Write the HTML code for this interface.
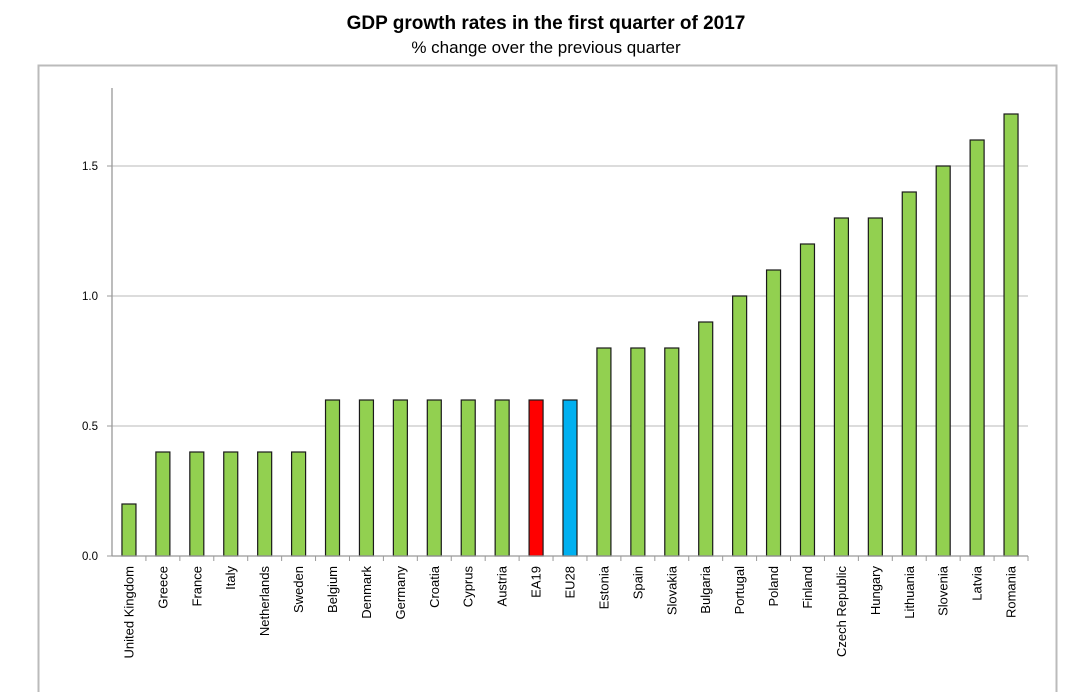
<!DOCTYPE html>
<html><head><meta charset="utf-8"><style>
html,body{margin:0;padding:0;background:#fff;}
svg{display:block;font-family:"Liberation Sans",sans-serif;}
</style></head><body>
<svg id="chart" width="1071" height="692">
<text x="546" y="29" text-anchor="middle" font-size="19" font-weight="bold">GDP growth rates in the first quarter of 2017</text>
<text x="546" y="53" text-anchor="middle" font-size="17">% change over the previous quarter</text>
<rect x="38.5" y="65.5" width="1018" height="640" fill="none" stroke="#bbb" stroke-width="2"/>
<g id="grid"></g><g id="bars"></g><g id="axes"></g>
</svg>
<script>
const categories=["United Kingdom","Greece","France","Italy","Netherlands","Sweden","Belgium","Denmark","Germany","Croatia","Cyprus","Austria","EA19","EU28","Estonia","Spain","Slovakia","Bulgaria","Portugal","Poland","Finland","Czech Republic","Hungary","Lithuania","Slovenia","Latvia","Romania"];
const values=[0.2,0.4,0.4,0.4,0.4,0.4,0.6,0.6,0.6,0.6,0.6,0.6,0.6,0.6,0.8,0.8,0.8,0.9,1.0,1.1,1.2,1.3,1.3,1.4,1.5,1.6,1.7];
const ticks=[0,0.5,1.0,1.5];
const tickLabels=["0.0","0.5","1.0","1.5"];
const NS="http://www.w3.org/2000/svg";
const x0=112,x1=1028,yZero=556,pxPer=260,yTop=88;
const bw=(x1-x0)/categories.length;
const y=v=>yZero-v*pxPer;
const xc=i=>x0+bw*(i+0.5);
function mk(tag,attrs,parent){const e=document.createElementNS(NS,tag);for(const k in attrs)e.setAttribute(k,attrs[k]);parent.appendChild(e);return e;}
const grid=document.getElementById('grid'),bars=document.getElementById('bars'),axes=document.getElementById('axes');
ticks.forEach((t,i)=>{
 if(t>0){const l=mk('line',{x1:x0,x2:x1,y1:y(t),y2:y(t),stroke:'#c8c8c8','stroke-width':1.3},grid);
 
 }
 const tk=mk('line',{x1:x0-5,x2:x0,y1:y(t),y2:y(t),stroke:'#999'},axes);
 
 
 const tx=mk('text',{x:x0-14,y:y(t)+4,'text-anchor':'end','font-size':11.5},axes);
 tx.textContent=tickLabels[i];
 
 
});
const ya=mk('line',{x1:x0,x2:x0,y1:yTop,y2:yZero,stroke:'#999','stroke-width':1.3},axes);


const xa=mk('line',{x1:x0,x2:x1,y1:yZero,y2:yZero,stroke:'#999','stroke-width':1.3},axes);


categories.forEach((c,i)=>{
 const tk=mk('line',{x1:x0+bw*(i+1),x2:x0+bw*(i+1),y1:yZero,y2:yZero+5,stroke:'#999'},axes);
 
 
 const col=c==='EA19'?'#ff0000':c==='EU28'?'#00b0f0':'#92d050';
 const r=mk('rect',{x:xc(i)-7,y:y(values[i]),width:14,height:yZero-y(values[i]),fill:col,stroke:'#1a1a1a','stroke-width':1.2},bars);
 
 
 const t=mk('text',{transform:`translate(${xc(i)+4.5},566) rotate(-90)`,'text-anchor':'end','font-size':13},axes);
 t.textContent=c;
 
 
});
</script>
</body></html>
